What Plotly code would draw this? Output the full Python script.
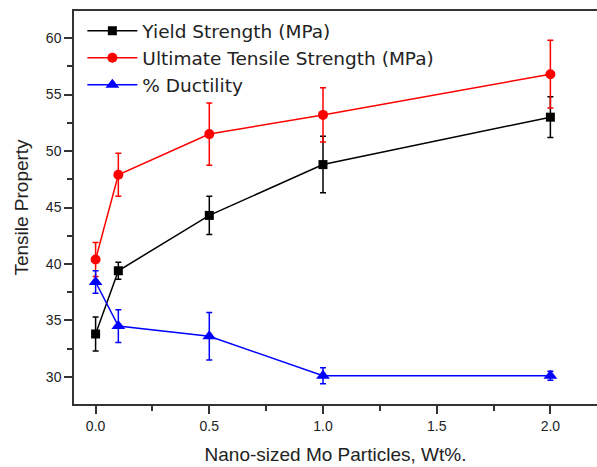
import plotly.graph_objects as go

x_vals = [0.0, 0.1, 0.5, 1.0, 2.0]

yield_strength = [33.8, 39.4, 44.3, 48.8, 53.0]
yield_err = [1.5, 0.75, 1.7, 2.5, 1.8]

uts = [40.4, 47.9, 51.5, 53.2, 56.8]
uts_err = [1.5, 1.9, 2.75, 2.4, 3.0]

ductility = [38.4, 34.5, 33.6, 30.1, 30.1]
ductility_err = [1.0, 1.45, 2.1, 0.7, 0.4]

series_names = ["Yield Strength (MPa)", "Ultimate Tensile Strength (MPa)", "% Ductility"]
x_ticks = [0.0, 0.5, 1.0, 1.5, 2.0]
y_ticks = [30, 35, 40, 45, 50, 55, 60]

FONT = "Liberation Sans, Arial, sans-serif"
LEGEND_FONT = "DejaVu Sans, Liberation Sans, sans-serif"

fig = go.Figure()

specs = [
    (yield_strength, yield_err, "#000000", "square", 9),
    (uts, uts_err, "#ff0000", "circle", 10),
    (ductility, ductility_err, "#0000ff", "triangle-up", 12),
]
for name, (vals, errs, col, sym, msize) in zip(series_names, specs):
    fig.add_trace(go.Scatter(
        x=x_vals, y=vals, name=name, mode="lines+markers",
        line=dict(color=col, width=1.5),
        marker=dict(color=col, symbol=sym, size=msize),
        error_y=dict(type="data", array=errs, visible=True, color=col,
                     thickness=1.5, width=3),
    ))

fig.update_layout(
    width=597, height=467,
    margin=dict(l=74, r=0, t=11, b=63),
    paper_bgcolor="white", plot_bgcolor="white",
    font=dict(family=FONT, color="#222222"),
    showlegend=True,
    legend=dict(x=0.016, y=0.997, xanchor="left", yanchor="top",
                bgcolor="rgba(0,0,0,0)", font=dict(size=18.5, family=LEGEND_FONT, color="#222222"),
                itemwidth=50, tracegroupgap=0),
    xaxis=dict(
        range=[-0.095, 2.205], tickvals=x_ticks, tickformat=".1f",
        showgrid=False, zeroline=False, showline=True, linecolor="#333333",
        linewidth=1.5, mirror=True, ticks="outside", ticklen=8, tickwidth=1.5,
        tickcolor="#333333", tickfont=dict(size=14, family=FONT),
        minor=dict(dtick=0.25, tick0=0, ticks="outside", ticklen=5, tickwidth=1.5,
                   tickcolor="#333333", showgrid=False),
        title=dict(text="Nano-sized Mo Particles, Wt%.", font=dict(size=19, family=FONT), standoff=15),
    ),
    yaxis=dict(
        range=[27.6, 62.4], tickvals=y_ticks,
        showgrid=False, zeroline=False, showline=True, linecolor="#333333",
        linewidth=1.5, mirror=False, ticks="outside", ticklen=8, tickwidth=1.5,
        tickcolor="#333333", tickfont=dict(size=14, family=FONT),
        minor=dict(dtick=2.5, tick0=0, ticks="outside", ticklen=5, tickwidth=1.5,
                   tickcolor="#333333", showgrid=False),
        title=dict(text="Tensile Property", font=dict(size=19, family=FONT), standoff=12),
    ),
)

fig.write_html("out.html")
